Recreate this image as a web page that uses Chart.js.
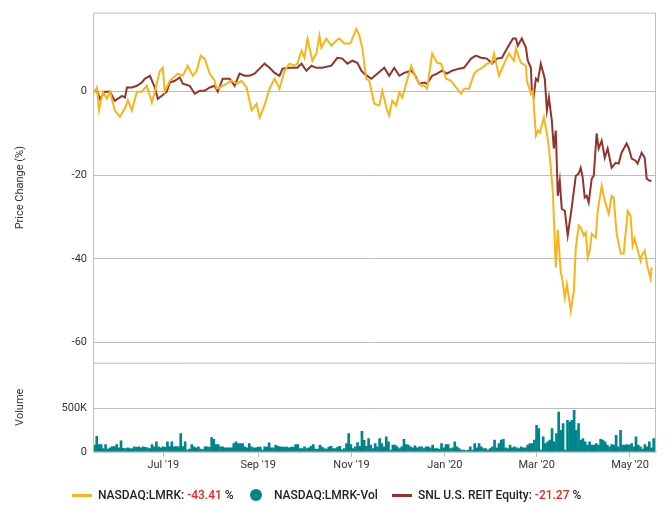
<!DOCTYPE html>
<html><head><meta charset="utf-8">
<script src="https://cdn.jsdelivr.net/npm/chart.js@4.4.1/dist/chart.umd.min.js"></script>
<style>
body{margin:0;background:#fff;font-family:Roboto,"Liberation Sans",sans-serif;}
#wrap{position:relative;width:672px;height:521px;}
canvas{position:absolute;left:0;top:0;}
#legend{position:absolute;top:488px;left:0;width:672px;font-size:12px;color:#222;font-weight:500;}
.it{position:absolute;top:0;white-space:nowrap;display:flex;align-items:center;}
.ln{display:inline-block;width:20px;height:3px;margin-right:6px;}
.dot{display:inline-block;width:12px;height:12px;border-radius:50%;margin-right:12px;}
.neg{color:#e8251f;}
</style></head><body>
<div id="wrap"><canvas id="c" width="672" height="521"></canvas>
<div id="legend">
<div class="it" style="left:72px"><span class="ln" style="background:#F9B41B"></span>NASDAQ:LMRK:&nbsp;<span class="neg">-43.41</span>&nbsp;%</div>
<div class="it" style="left:250px"><span class="dot" style="background:#00848C"></span>NASDAQ:LMRK-Vol</div>
<div class="it" style="left:392px"><span class="ln" style="background:#93332D"></span>SNL U.S. REIT Equity:&nbsp;<span class="neg">-21.27</span>&nbsp;%</div>
</div></div>
<script>
// x = days since 2019-05-16
const startDate = new Date(2019,4,16);
const tickDates = [[2019,6,1],[2019,8,1],[2019,10,1],[2020,0,1],[2020,2,1],[2020,4,1]];
const tickLabels = ["Jul '19","Sep '19","Nov '19","Jan '20","Mar '20","May '20"];

const lmrkDays=[0.7,2.6,3.9,6.5,9.1,11.1,14.3,17.6,20.9,22.8,25.4,28.7,31.9,35.2,38.5,40.4,43.7,45.6,46.9,50.2,55.4,58.7,61.9,65.2,67.8,70.4,73,76.3,79.5,80.8,82.8,87.4,90.6,93.9,97.1,100.4,103.7,106.9,108.9,112.1,115.4,118.7,121.9,125.2,128.4,131.7,133.6,136.3,138.2,140.2,143.4,146,148,149.3,152.5,155.8,159.1,161,164.3,166.3,168.2,172.1,174.1,176,178.6,180.6,183.8,187.1,189.1,191.7,193.6,195.6,198.2,200.2,202.1,204.7,208,211.2,214.5,216.5,218.4,221.7,224.9,227.5,230.8,234.1,237.3,240.6,242.5,245.8,249.1,251,254.3,257.5,260.8,262.1,265.4,267.3,271.9,275.1,276.4,279.7,283,283.6,286.2,287.5,289.5,290.8,292.1,294.7,296.7,298,299.3,300.6,302.5,303.8,305.8,306.4,308.4,309.7,312.3,314.3,315.6,317.5,318.8,320.8,322.1,323.4,324.7,326,328.6,329.9,332.5,334.5,337.1,339,340.3,342.3,344.9,346.9,349.5,351.4,352.7,354,357.9,358.6,360.6,362.5,364.5,365.1];
const lmrkPct=[-0.2,1,-4.3,0,-1.7,0,-4.5,-6,-4,-2,-4.5,0,0,1.4,-2.6,0,5,5.7,0,2.6,4.3,3.8,6.2,3.8,5,8.6,7.9,4.3,2.6,0.7,1,1.9,2.6,1.9,2.6,1,-4.5,-2.9,-6.2,-3.3,0.7,3.1,0.7,5,6.7,6.2,6.7,9.8,8.1,12.7,7.4,9.1,13.4,10.5,12.7,11,12.2,12.7,11.5,11.5,11.5,15,13.4,10.5,3.1,2.6,-2.9,-3.3,0.2,-3.8,-5.7,-2.2,-3.3,-0.2,-1.4,1.9,6.2,3.1,1.4,1.4,0.7,9.1,6.9,6.7,3.1,2.6,1,-0.5,0.7,0.7,4.3,5,5.7,6.7,6.9,9.1,3.8,5.5,9.1,7.4,10.3,6.9,6.2,2.6,-0.5,0.2,-10.5,-9.3,-9.8,-6.2,-10,-13.4,-18.4,-24.4,-42,-33,-43.5,-44,-49.2,-46,-52.4,-47.6,-37.3,-32,-32.5,-34.4,-33.7,-39.7,-38,-34,-34.9,-28.5,-22.5,-26,-29.2,-24.9,-25.3,-34,-38.7,-38.7,-28.5,-29.7,-36.8,-35.1,-40.4,-39.2,-38,-42,-44.7,-42,-43.41];

const reitDays=[0.7,2.6,4.6,7.8,11.1,14.3,18.9,20.9,22.2,25.4,28.7,31.9,33.9,37.2,40.4,42.4,45,48.2,50.2,53.5,56.7,58.7,63.2,66.5,69.8,73,76.3,79.5,81.5,84.8,89.3,92.6,95.8,99.1,102.3,105.6,108.9,112.1,115.4,118.7,121.9,123.9,128.4,130.4,133.6,136.3,139.5,142.8,146,149.9,155.8,159.7,163,166.3,169.5,172.8,175.4,177.3,181.9,185.8,190.4,193.6,196.9,200.2,203.4,208,209.9,213.2,216.5,218.4,221.7,224.9,228.2,231.4,234.7,239.2,242.5,247.1,250.3,253.6,257.5,260.8,264.1,267.3,270.6,274.5,276.4,277.7,280.3,283,284.2,286.2,286.8,288.1,289.5,290.8,292.7,295.3,296.7,298,299.9,301.2,302.5,303.8,305.1,306.4,308.4,310.3,312.9,315.6,317.5,318.8,320.1,321.4,322.7,324,326,327.3,329.2,330.5,332.5,334.5,336.4,339,341.6,343.6,345.5,348.8,350.1,352.1,354.7,356,358.6,360.6,361.9,363.8,365.1];
const reitPct=[0,0.2,-1.7,0,0,-2.2,-1,-1.4,1,1,1.4,2.2,3.1,3.8,1,-1.7,-1,0,2.2,2.6,3.4,1.9,1.4,-0.5,0.2,0.2,1,1.4,0,3.1,3.1,1.4,4.3,3.8,3.8,4.3,5.5,6.7,5.7,4.5,3.8,5.5,5.7,5.7,5.7,6.7,5,6.2,5.7,5.7,6.2,8.1,7.9,6.7,7.4,6.9,5,4.3,3.1,4.3,5.7,3.8,5.7,3.8,4.5,5,4.3,1.9,2.2,1.9,3.8,4.3,5,4.3,5,5.5,5.7,7.9,8.6,8.1,7.9,6.7,7.9,8.1,10.3,12.7,12.7,11,12.7,10.5,7.4,5.7,0.7,-1,3.1,2.6,6.7,3.1,-4.5,-1.4,-6.9,-13.6,-9.3,-24.9,-21.3,-28,-28.5,-34.4,-27.7,-20.1,-19.6,-18.2,-20.6,-25.3,-24.9,-26.5,-20.8,-20.1,-10,-13.6,-11.7,-15.8,-13.6,-18.2,-17,-17.2,-14.6,-12.4,-13.4,-16,-16.5,-17.2,-14.6,-15.8,-20.8,-21.3,-21.27];

// daily volume, thousands of shares
const volK=[76,178,83,83,38,83,30,45,60,60,83,45,125,40,38,45,38,38,57,50,57,45,57,50,45,38,83,57,113,57,45,57,50,113,60,113,57,60,57,208,60,113,20,30,83,57,45,57,30,25,57,57,50,163,144,83,83,57,57,45,45,45,45,95,113,95,95,95,57,45,95,57,45,45,53,53,20,57,53,102,45,45,76,64,57,53,53,53,45,53,53,83,83,38,38,57,38,45,64,83,30,30,76,53,38,30,53,64,38,38,53,64,23,38,95,208,83,38,57,106,64,235,132,64,152,76,38,
95,57,152,95,57,170,113,20,76,76,57,38,57,144,83,76,57,45,68,45,57,57,38,57,57,45,76,38,38,27,95,45,83,83,38,45,113,57,38,20,20,11,20,57,20,95,45,95,57,38,38,20,38,57,133,45,95,133,144,45,38,76,45,57,45,38,57,45,45,76,95,95,133,303,265,20,170,95,113,133,265,113,208,455,246,322,20,360,341,360,474,246,322,133,152,113,76,114,76,76,95,76,144,133,114,76,57,83,76,190,57,246,76,76,83,76,95,57,170,76,57,30,83,57,114,45,152];
const volFirstDay=1, volLastDay=366.5;

const pts=(xs,ys)=>xs.map((x,i)=>({x,y:ys[i]}));
const volPts=volK.map((v,i)=>({x:volFirstDay+i*(volLastDay-volFirstDay)/(volK.length-1),y:v*1000}));
const tickVals=tickDates.map(d=>Math.round((new Date(d[0],d[1],d[2])-startDate)/864e5));

const frame={id:'frame',afterDraw(c){const a=c.chartArea,x=c.ctx;x.save();x.strokeStyle='#bdbdbd';x.lineWidth=1;
 x.strokeRect(a.left+0.5,a.top+0.5,a.right-a.left-1,a.bottom-a.top);
 const yb=c.scales.y.bottom;x.beginPath();x.moveTo(a.left,yb+0.5);x.lineTo(a.right,yb+0.5);x.stroke();x.restore();}};
const fit=s=>{s.width=79;};
Chart.defaults.font.family='Roboto, "Liberation Sans", sans-serif';
Chart.defaults.color='#333';
new Chart(document.getElementById('c'),{
 data:{datasets:[
  {type:'line',label:'LMRK',data:pts(lmrkDays,lmrkPct),borderColor:'#F9B41B',borderWidth:2,pointRadius:0,yAxisID:'y',tension:0},
  {type:'line',label:'REIT',data:pts(reitDays,reitPct),borderColor:'#93332D',borderWidth:2,pointRadius:0,yAxisID:'y',tension:0},
  {type:'bar',label:'Vol',data:volPts,backgroundColor:'#00848C',barThickness:2,yAxisID:'yv',xAxisID:'x'}
 ]},
 options:{responsive:false,animation:false,
  layout:{padding:{top:0,right:16,left:14,bottom:47}},
  plugins:{legend:{display:false},tooltip:{enabled:false}},
  scales:{
   x:{type:'linear',min:0,max:368,offset:false,afterBuildTicks:s=>{s.ticks=tickVals.map(v=>({value:v}));},
      ticks:{callback:(v)=>tickLabels[tickVals.indexOf(v)],font:{size:11},maxRotation:0,autoSkip:false,padding:2},
      grid:{drawOnChartArea:false,tickLength:5,color:'#bdbdbd',offset:false},border:{color:'#bdbdbd'}},
   yv:{type:'linear',position:'left',stack:'s',stackWeight:1,min:0,max:1020000,offset:false,
      afterBuildTicks:s=>{s.ticks=[{value:0},{value:500000}];},afterFit:fit,
      ticks:{callback:v=>v===0?'0':(v/1000)+'K',font:{size:11},padding:6},
      grid:{color:'#bdbdbd',drawTicks:false},border:{display:false},
      title:{display:true,text:'Volume',font:{size:11},padding:{top:0,bottom:0}}},
   y:{type:'linear',position:'left',stack:'s',stackWeight:3.93,min:-64.8,max:18.9,offset:false,
      afterBuildTicks:s=>{s.ticks=[-60,-40,-20,0].map(v=>({value:v}));},afterFit:fit,
      ticks:{font:{size:11},padding:6},
      grid:{color:'#bdbdbd',drawTicks:false},border:{display:false},
      title:{display:true,text:'Price Change (%)',font:{size:11},padding:{top:0,bottom:0}}}
  }},
 plugins:[frame]
});
</script></body></html>
